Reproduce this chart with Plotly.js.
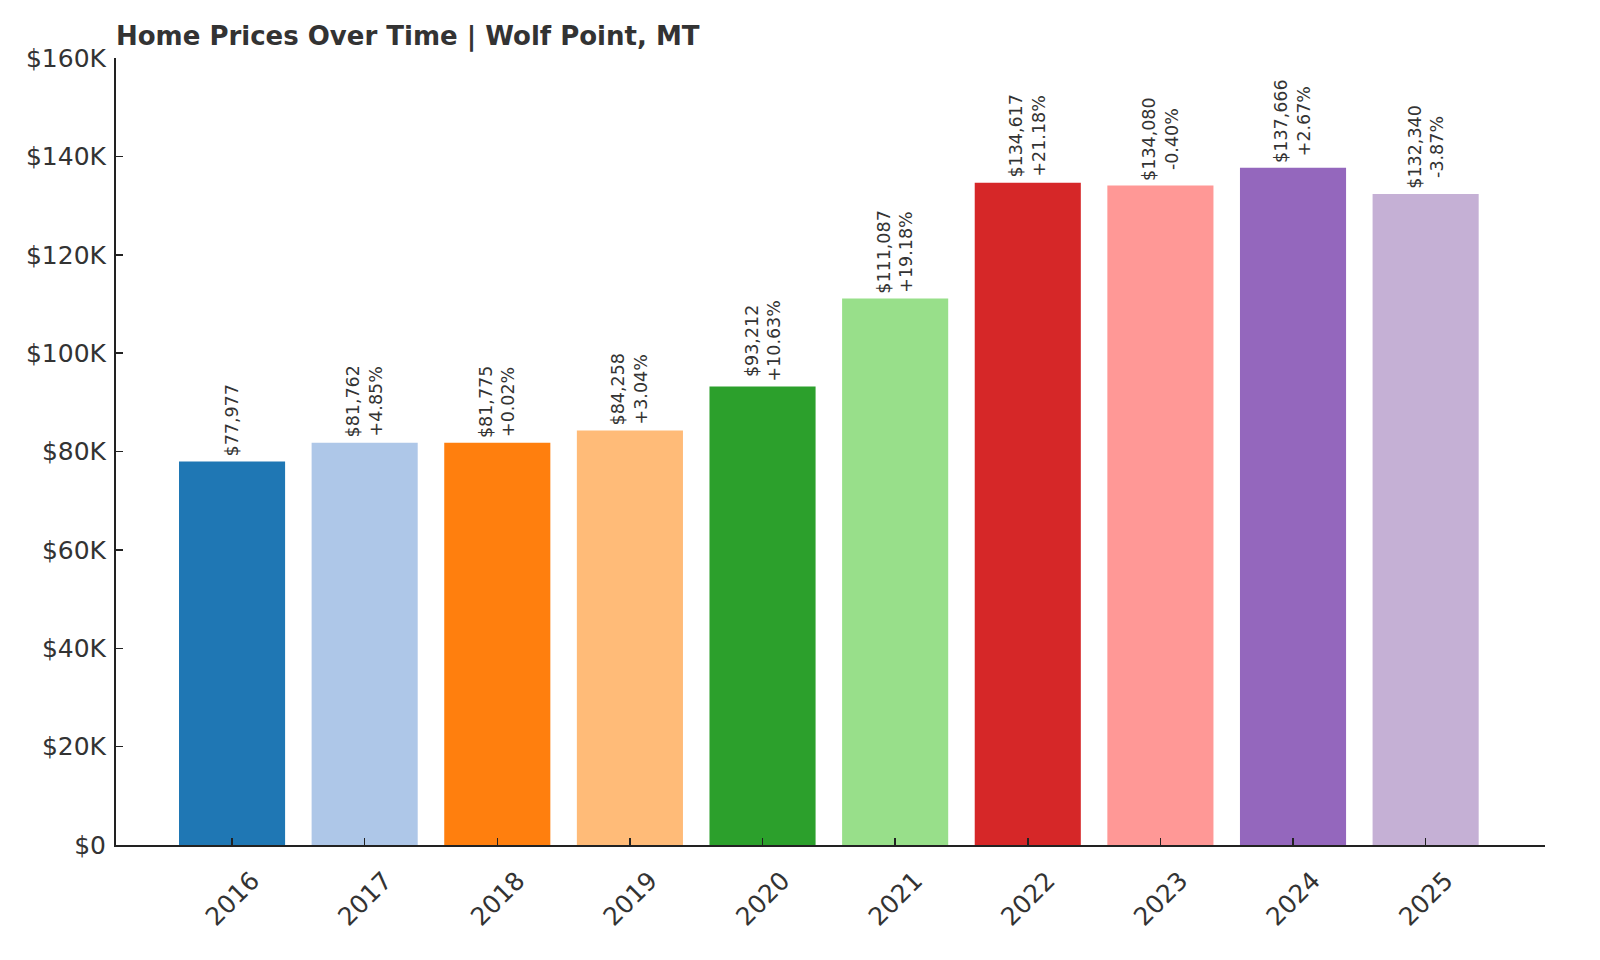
<!DOCTYPE html>
<html>
<head>
<meta charset="utf-8">
<script src="https://cdn.plot.ly/plotly-3.0.1.min.js"></script>
<style>
  html, body { margin: 0; padding: 0; background: white; }
  #chart { width: 1600px; height: 960px; }
</style>
</head>
<body>
<div id="chart"></div>
<script>
// Data
const years = ['2016', '2017', '2018', '2019', '2020', '2021', '2022', '2023', '2024', '2025'];
const prices = [77977, 81762, 81775, 84258, 93212, 111087, 134617, 134080, 137666, 132340];
const priceLabels = ['$77,977', '$81,762', '$81,775', '$84,258', '$93,212', '$111,087', '$134,617', '$134,080', '$137,666', '$132,340'];
const changeLabels = ['', '+4.85%', '+0.02%', '+3.04%', '+10.63%', '+19.18%', '+21.18%', '-0.40%', '+2.67%', '-3.87%'];
const barColors = ['#1f77b4', '#aec7e8', '#ff7f0e', '#ffbb78', '#2ca02c', '#98df8a', '#d62728', '#ff9896', '#9467bd', '#c5b0d5'];
const yTickVals = [0, 20000, 40000, 60000, 80000, 100000, 120000, 140000, 160000];
const yTickText = ['$0', '$20K', '$40K', '$60K', '$80K', '$100K', '$120K', '$140K', '$160K'];

const textColor = '#333333';

const trace = {
    x: years,
    y: prices,
    type: 'bar',
    width: 0.8,
    marker: { color: barColors, line: { width: 0 } },
    hoverinfo: 'skip'
};

// rotated value labels above each bar (x given as category index)
const annotations = years.map((yr, i) => ({
    x: i,
    y: prices[i],
    xref: 'x',
    yref: 'y',
    text: changeLabels[i] ? priceLabels[i] + '<br>' + changeLabels[i] : priceLabels[i],
    textangle: -90,
    showarrow: false,
    xanchor: 'center',
    yanchor: 'bottom',
    yshift: 3,
    align: 'center',
    font: { family: 'DejaVu Sans, sans-serif', size: 17.5, color: textColor }
}));

const layout = {
    width: 1600,
    height: 960,
    paper_bgcolor: 'white',
    plot_bgcolor: 'white',
    margin: { t: 58, b: 115, l: 116, r: 55 },
    font: { family: 'DejaVu Sans, sans-serif', color: textColor },
    showlegend: false,
    title: {
        text: '<b>Home Prices Over Time | Wolf Point, MT</b>',
        xref: 'container',
        x: 116 / 1600,
        xanchor: 'left',
        yref: 'container',
        y: 1 - 36 / 960,
        yanchor: 'middle',
        font: { family: 'DejaVu Sans, sans-serif', size: 26, color: textColor }
    },
    xaxis: {
        type: 'category',
        range: [-0.875, 9.9],
        fixedrange: true,
        showline: true,
        linecolor: '#222222',
        linewidth: 2,
        ticks: 'inside',
        ticklen: 7,
        tickwidth: 1.5,
        tickcolor: '#222222',
        tickangle: -45,
        ticklabelshift: 20,
        ticklabelstandoff: 9,
        tickfont: { size: 25, color: textColor },
        showgrid: false,
        zeroline: false
    },
    yaxis: {
        range: [0, 160000],
        fixedrange: true,
        showline: true,
        linecolor: '#222222',
        linewidth: 2,
        ticks: 'inside',
        ticklen: 7,
        tickwidth: 1.5,
        tickcolor: '#222222',
        tickvals: yTickVals,
        ticktext: yTickText,
        ticklabelstandoff: 3,
        tickfont: { size: 25, color: textColor },
        showgrid: false,
        zeroline: false
    },
    annotations: annotations
};

Plotly.newPlot('chart', [trace], layout, { displayModeBar: false, staticPlot: true });
</script>
</body>
</html>
